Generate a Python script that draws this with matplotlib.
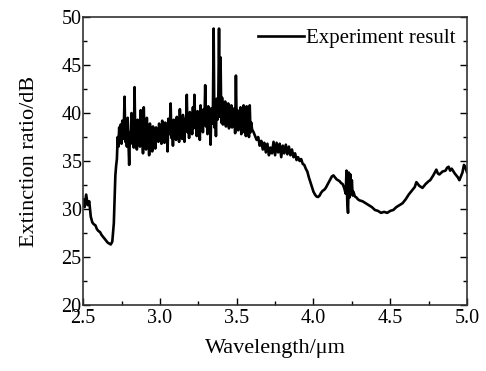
import matplotlib
matplotlib.use('Agg')
import matplotlib.pyplot as plt
from matplotlib.ticker import MultipleLocator

plt.rcParams['font.family'] = ['Liberation Serif', 'DejaVu Serif']

# wavelength (um) and extinction ratio (dB)
wavelength = [
    2.50, 2.51, 2.52, 2.53, 2.54, 2.55, 2.56, 2.57, 2.58, 2.59,
    2.60, 2.61, 2.62, 2.63, 2.64, 2.65, 2.66, 2.67, 2.68, 2.69,
    2.70, 2.71, 2.715, 2.72, 2.725, 2.73, 2.735, 2.74, 2.745, 2.75,
    2.755, 2.76, 2.765, 2.77, 2.775, 2.78, 2.785, 2.79, 2.795, 2.80,
    2.805, 2.81, 2.815, 2.82, 2.825, 2.83, 2.835, 2.84, 2.845, 2.85,
    2.855, 2.86, 2.865, 2.87, 2.875, 2.88, 2.885, 2.89, 2.895, 2.90,
    2.905, 2.91, 2.915, 2.92, 2.925, 2.93, 2.935, 2.94, 2.945, 2.95,
    2.955, 2.96, 2.965, 2.97, 2.975, 2.98, 2.985, 2.99, 2.995, 3.00,
    3.005, 3.01, 3.015, 3.02, 3.025, 3.03, 3.035, 3.04, 3.045, 3.05,
    3.055, 3.06, 3.065, 3.07, 3.075, 3.08, 3.085, 3.09, 3.095, 3.10,
    3.105, 3.11, 3.115, 3.12, 3.125, 3.13, 3.135, 3.14, 3.145, 3.15,
    3.155, 3.16, 3.165, 3.17, 3.175, 3.18, 3.185, 3.19, 3.195, 3.20,
    3.205, 3.21, 3.215, 3.22, 3.225, 3.23, 3.235, 3.24, 3.245, 3.25,
    3.255, 3.26, 3.265, 3.27, 3.275, 3.28, 3.285, 3.29, 3.295, 3.30,
    3.305, 3.31, 3.315, 3.32, 3.325, 3.33, 3.335, 3.34, 3.345, 3.35,
    3.355, 3.36, 3.365, 3.37, 3.375, 3.38, 3.385, 3.39, 3.395, 3.40,
    3.405, 3.41, 3.415, 3.42, 3.425, 3.43, 3.435, 3.44, 3.445, 3.45,
    3.455, 3.46, 3.465, 3.47, 3.475, 3.48, 3.485, 3.49, 3.495, 3.50,
    3.505, 3.51, 3.515, 3.52, 3.525, 3.53, 3.535, 3.54, 3.545, 3.55,
    3.555, 3.56, 3.565, 3.57, 3.575, 3.58, 3.585, 3.59, 3.595, 3.60,
    3.61, 3.62, 3.63, 3.64, 3.65, 3.66, 3.67, 3.68, 3.69, 3.70,
    3.71, 3.72, 3.73, 3.74, 3.75, 3.76, 3.77, 3.78, 3.79, 3.80,
    3.81, 3.82, 3.83, 3.84, 3.85, 3.86, 3.87, 3.88, 3.89, 3.90,
    3.91, 3.92, 3.93, 3.94, 3.95, 3.96, 3.97, 3.98, 3.99, 4.00,
    4.01, 4.02, 4.03, 4.04, 4.05, 4.06, 4.07, 4.08, 4.09, 4.10,
    4.11, 4.12, 4.13, 4.14, 4.15, 4.16, 4.17, 4.18, 4.19, 4.20,
    4.21, 4.215, 4.22, 4.225, 4.23, 4.235, 4.24, 4.245, 4.25, 4.255,
    4.26, 4.27, 4.28, 4.29, 4.30, 4.32, 4.34, 4.36, 4.38, 4.40,
    4.42, 4.44, 4.46, 4.48, 4.50, 4.52, 4.54, 4.56, 4.58, 4.60,
    4.62, 4.63, 4.64, 4.66, 4.67, 4.68, 4.69, 4.71, 4.73, 4.75,
    4.76, 4.78, 4.80, 4.81, 4.82, 4.84, 4.86, 4.87, 4.88, 4.89,
    4.90, 4.92, 4.94, 4.95, 4.96, 4.97, 4.98, 4.99, 5.00,
]
extinction = [
    31.0, 30.2, 31.5, 30.4, 30.8, 29.2, 28.6, 28.4, 28.3, 27.9,
    27.7, 27.6, 27.3, 27.1, 26.9, 26.7, 26.5, 26.4, 26.3, 26.6,
    28.5, 33.5, 34.5, 35.2, 37.5, 36.5, 38.5, 37.0, 38.8, 36.8,
    39.2, 37.3, 38.5, 41.7, 37.0, 38.8, 36.5, 39.5, 37.2, 34.6,
    38.0, 36.8, 40.0, 37.5, 38.3, 36.4, 42.7, 37.0, 38.6, 36.2,
    39.3, 37.5, 38.0, 36.5, 40.3, 37.2, 38.4, 35.8, 40.6, 37.4,
    38.2, 36.2, 39.5, 37.0, 38.5, 35.6, 38.9, 37.3, 38.1, 36.0,
    38.6, 37.1, 37.9, 36.3, 38.5, 37.6, 38.3, 37.0, 38.9, 37.4,
    38.6, 36.8, 39.2, 37.5, 38.4, 36.9, 39.0, 37.6, 38.8, 36.0,
    39.4, 37.8, 38.5, 41.0, 37.4, 38.9, 36.6, 39.3, 37.9, 38.7,
    37.2, 39.6, 38.0, 38.8, 37.0, 40.4, 38.1, 39.0, 37.3, 39.8,
    38.3, 37.0, 39.4, 38.2, 41.9, 38.0, 39.5, 37.4, 40.1, 38.5,
    39.2, 37.8, 40.6, 38.4, 41.9, 38.6, 39.6, 37.6, 40.2, 38.8,
    39.5, 37.2, 40.8, 38.7, 39.9, 38.0, 40.4, 39.0, 42.9, 38.6,
    40.0, 37.8, 40.7, 39.1, 39.9, 36.7, 40.5, 38.9, 39.8, 48.8,
    38.5, 40.2, 37.6, 41.5, 39.3, 40.8, 48.8, 39.6, 45.8, 39.0,
    41.6, 38.8, 40.9, 39.5, 41.2, 38.6, 40.6, 39.2, 41.0, 38.4,
    40.3, 39.0, 40.8, 38.5, 40.1, 38.9, 40.5, 37.9, 43.9, 38.8,
    40.3, 38.2, 39.8, 38.6, 40.6, 37.8, 39.6, 38.4, 40.8, 38.0,
    39.3, 37.6, 40.7, 38.2, 39.2, 37.5, 40.8, 38.0, 39.0, 38.3,
    38.0, 37.6, 37.2, 37.5, 36.6, 37.1, 36.2, 36.9, 35.9, 36.8,
    35.6, 36.4, 35.8, 37.0, 35.6, 36.9, 35.9, 36.8, 35.4, 36.6,
    35.8, 36.7, 35.7, 36.5, 35.6, 36.2, 35.4, 35.8, 35.1, 35.4,
    35.0, 35.2, 34.7, 34.6, 34.2, 33.9, 33.3, 32.8, 32.3, 31.8,
    31.5, 31.3, 31.25, 31.4, 31.7, 31.9, 32.0, 32.2, 32.5, 32.8,
    33.1, 33.4, 33.5, 33.3, 33.1, 33.0, 32.9, 32.7, 32.6, 32.2,
    31.6, 34.0, 30.8, 29.6, 33.8, 31.2, 33.6, 31.6, 33.0, 31.4,
    31.8, 31.3, 31.2, 31.0, 30.9, 30.8, 30.6, 30.4, 30.2, 29.9,
    29.8, 29.6, 29.7, 29.6, 29.8, 29.9, 30.2, 30.4, 30.6, 31.0,
    31.5, 31.7, 31.9, 32.3, 32.8, 32.6, 32.4, 32.2, 32.6, 32.9,
    33.0, 33.5, 34.1, 33.7, 33.6, 33.9, 34.0, 34.3, 34.4, 34.0,
    34.2, 33.7, 33.3, 33.0, 33.4, 33.8, 34.6, 34.3, 33.8,
]

fig = plt.figure(figsize=(4.86, 3.71), dpi=100)
ax = fig.add_axes([0.171, 0.178, 0.790, 0.776])

ax.plot(wavelength, extinction, color='black', linewidth=1.9, label='Experiment result')

ax.set_xlim(2.5, 5.0)
ax.set_ylim(20, 50)
ax.xaxis.set_major_locator(MultipleLocator(0.5))
ax.xaxis.set_minor_locator(MultipleLocator(0.25))
ax.yaxis.set_major_locator(MultipleLocator(5))
ax.yaxis.set_minor_locator(MultipleLocator(2.5))
ax.xaxis.set_major_formatter(plt.FormatStrFormatter('%.1f'))

ax.tick_params(which='both', direction='in', right=True, top=False, labelsize=14.5)
ax.tick_params(axis='x', pad=3)
ax.tick_params(axis='y', pad=1)
ax.tick_params(which='major', length=5, width=1)
ax.tick_params(which='minor', length=3, width=1)
for s in ax.spines.values():
    s.set_linewidth(1.2)
    s.set_color('#333333')

ax.set_xlabel('Wavelength/μm', fontsize=16, labelpad=8)
ax.set_ylabel('Extinction ratio/dB', fontsize=16, labelpad=16)

ax.legend(loc='upper right', frameon=False, fontsize=15, handlelength=2.2,
          handletextpad=0.1, borderaxespad=0.35, borderpad=0.2)

fig.savefig('out.png', dpi=100)
